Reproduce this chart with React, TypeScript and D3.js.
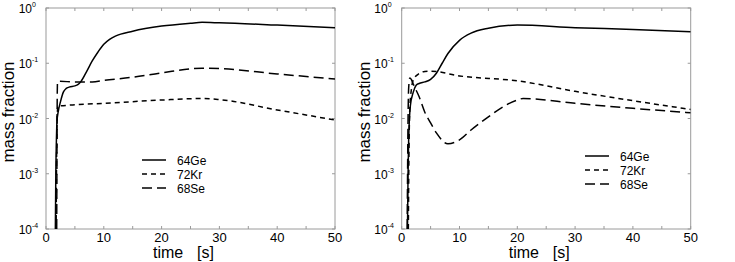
import React from "react";
import * as d3 from "d3";

const xTicks = [0, 10, 20, 30, 40, 50];
const xMinorTicks = [5, 15, 25, 35, 45];
const yExponents = [0, -1, -2, -3, -4];
const seriesNames = ["64Ge", "72Kr", "68Se"];

// Left panel
const leftGeT = [1.62, 1.7, 1.8, 1.9, 2.1, 2.5, 3, 3.5, 4, 5, 5.5, 6, 7, 8, 9, 10, 11, 12, 15, 20, 25, 27, 30, 40, 50];
const leftGeV = [1e-4, 1e-3, 4e-3, 0.009, 0.013, 0.02, 0.03, 0.035, 0.037, 0.039, 0.041, 0.046, 0.07, 0.11, 0.16, 0.22, 0.27, 0.31, 0.38, 0.47, 0.53, 0.55, 0.54, 0.49, 0.44];
const leftKrT = [1.75, 1.85, 1.95, 2.1, 2.5, 5, 10, 20, 27, 30, 40, 50];
const leftKrV = [1e-4, 3e-3, 0.012, 0.017, 0.017, 0.0178, 0.0188, 0.0216, 0.023, 0.022, 0.0143, 0.0094];
const leftSeT = [1.85, 1.9, 1.95, 2.0, 2.3, 5, 8, 10, 15, 20, 27, 30, 40, 50];
const leftSeV = [1e-4, 0.003, 0.03, 0.047, 0.047, 0.046, 0.046, 0.049, 0.056, 0.067, 0.081, 0.08, 0.064, 0.052];

// Right panel
const rightGeT = [1.0, 1.1, 1.2, 1.5, 2, 2.5, 3, 4, 5, 6, 7, 8, 10, 12, 15, 20, 30, 40, 50];
const rightGeV = [1e-4, 1e-3, 0.004, 0.017, 0.03, 0.04, 0.043, 0.046, 0.051, 0.066, 0.1, 0.15, 0.26, 0.35, 0.43, 0.49, 0.44, 0.41, 0.37];
const rightKrT = [1.15, 1.25, 1.4, 1.7, 2, 3, 4, 5, 10, 20, 30, 40, 50];
const rightKrV = [1e-4, 2e-3, 0.015, 0.035, 0.05, 0.065, 0.071, 0.072, 0.059, 0.048, 0.031, 0.021, 0.0146];
const rightSeT = [0.95, 1.05, 1.2, 1.4, 1.7, 2, 3, 4, 5, 6, 8, 10, 12, 15, 18, 20, 21, 30, 40, 50];
const rightSeV = [1e-4, 3e-3, 0.035, 0.054, 0.05, 0.042, 0.025, 0.013, 0.0083, 0.0055, 0.0035, 0.0041, 0.0062, 0.0107, 0.0174, 0.0216, 0.023, 0.0188, 0.0153, 0.0127];

const dashes = ["none", "5,4", "10,5"];

type PanelProps = {
  left: number;
  series: [number[], number[]][];
  legendX: number;
  legendY: number;
};

const FONT = "'Liberation Sans', Arial, Helvetica, sans-serif";

function Panel({ left, series, legendX, legendY }: PanelProps) {
  const top = 8;
  const width = 289;
  const height = 221;
  const x = d3.scaleLinear().domain([0, 50]).range([left, left + width]);
  const y = d3.scaleLog().domain([1e-4, 1]).range([top + height, top]);
  const clipId = `clip-${Math.round(left)}`;
  const line = d3
    .line<[number, number]>()
    .x((d) => x(d[0]))
    .y((d) => y(d[1]))
    .curve(d3.curveMonotoneX);
  const frame = "#9a9a9a";
  return (
    <g>
      <defs>
        <clipPath id={clipId}>
          <rect x={left} y={top} width={width} height={height} />
        </clipPath>
      </defs>
      <rect x={left} y={top} width={width} height={height} fill="none" stroke={frame} strokeWidth={1} />
      {[...xTicks, ...xMinorTicks].map((t) => (
        <g key={t}>
          <line x1={x(t)} x2={x(t)} y1={top + height} y2={top + height - 3} stroke={frame} />
          <line x1={x(t)} x2={x(t)} y1={top} y2={top + 3} stroke={frame} />
        </g>
      ))}
      {yExponents.map((e) => (
        <g key={e}>
          <line x1={left} x2={left + 3} y1={y(Math.pow(10, e))} y2={y(Math.pow(10, e))} stroke={frame} />
          <line x1={left + width} x2={left + width - 3} y1={y(Math.pow(10, e))} y2={y(Math.pow(10, e))} stroke={frame} />
          <text x={left - 14} y={y(Math.pow(10, e)) + 5} fontSize={12} textAnchor="end" fontFamily={FONT}>
            10
          </text>
          <text x={left - 14} y={y(Math.pow(10, e)) - 1} fontSize={7} textAnchor="start" fontFamily={FONT}>
            {e === 0 ? "0" : String(e)}
          </text>
        </g>
      ))}
      {xTicks.map((t) => (
        <text key={t} x={x(t)} y={242} fontSize={13} textAnchor="middle" fontFamily={FONT}>
          {t}
        </text>
      ))}
      <text x={left + 107} y={258} fontSize={16} fontFamily={FONT}>
        time
      </text>
      <text x={left + 151} y={258} fontSize={16} fontFamily={FONT}>
        [s]
      </text>
      <text
        transform={`translate(${left - 32},${top + 104}) rotate(-90)`}
        fontSize={17}
        textAnchor="middle"
        fontFamily={FONT}
      >
        mass fraction
      </text>
      <g clipPath={`url(#${clipId})`}>
        {series.map(([ts, vs], i) => (
          <path
            key={i}
            d={line(ts.map((t, j) => [t, vs[j]] as [number, number])) || ""}
            fill="none"
            stroke="#000"
            strokeWidth={1.5}
            strokeDasharray={dashes[i]}
          />
        ))}
      </g>
      {seriesNames.map((n, i) => (
        <g key={n}>
          <line
            x1={legendX}
            x2={legendX + 24}
            y1={legendY + i * 14}
            y2={legendY + i * 14}
            stroke="#000"
            strokeWidth={1.5}
            strokeDasharray={dashes[i]}
          />
          <text x={legendX + 35} y={legendY + i * 14 + 4.5} fontSize={12} fontFamily={FONT}>
            {n}
          </text>
        </g>
      ))}
    </g>
  );
}

export default function App() {
  return (
    <svg width={735} height={262} style={{ position: "absolute", left: 0, top: 0 }}>
      <rect width={735} height={262} fill="#fff" />
      <Panel
        left={46}
        series={[
          [leftGeT, leftGeV],
          [leftKrT, leftKrV],
          [leftSeT, leftSeV],
        ]}
        legendX={142}
        legendY={160}
      />
      <Panel
        left={401.7}
        series={[
          [rightGeT, rightGeV],
          [rightKrT, rightKrV],
          [rightSeT, rightSeV],
        ]}
        legendX={585}
        legendY={156}
      />
    </svg>
  );
}
